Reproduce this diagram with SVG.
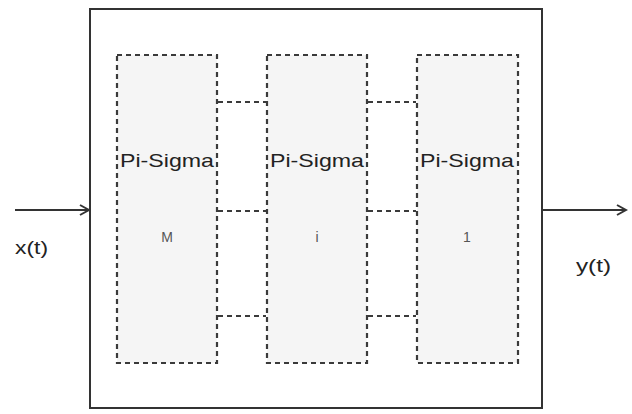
<svg xmlns="http://www.w3.org/2000/svg" width="632" height="414" viewBox="0 0 632 414">
<defs>
<style>
.box{fill:#f5f5f5;stroke:#3a3a3a;stroke-width:2.2;stroke-dasharray:5,4}
.conn{stroke:#3a3a3a;stroke-width:2.2;stroke-dasharray:5,4;fill:none}
.wire{stroke:#333;stroke-width:2;fill:none}
.lbl{font-family:"Liberation Sans",Arial,sans-serif;font-size:19px;fill:#222}
.idx{font-family:"Liberation Sans",Arial,sans-serif;font-size:14px;fill:#555;text-anchor:middle}
</style>
<marker id="arr" markerWidth="12" markerHeight="12" refX="10" refY="6" orient="auto" markerUnits="userSpaceOnUse">
<path d="M1,1 L10,6 L1,11" fill="none" stroke="#333" stroke-width="2"/>
</marker>
</defs>
<rect width="632" height="414" fill="#fff"/>
<g id="outer">
<rect x="90" y="9" width="452" height="399" fill="#fff" stroke="#333" stroke-width="2"/>
</g>
<g id="connectors">
<line class="wire" x1="15" y1="210" x2="89" y2="210" marker-end="url(#arr)"/>
<line class="wire" x1="542" y1="210" x2="626" y2="210" marker-end="url(#arr)"/>
<line class="conn" x1="218" y1="102" x2="266" y2="102"/>
<line class="conn" x1="218" y1="211" x2="266" y2="211"/>
<line class="conn" x1="218" y1="316" x2="266" y2="316"/>
<line class="conn" x1="368" y1="102" x2="416" y2="102"/>
<line class="conn" x1="368" y1="211" x2="416" y2="211"/>
<line class="conn" x1="368" y1="316" x2="416" y2="316"/>
</g>
<g id="nodeM">
<rect class="box" x="117" y="55" width="100" height="308"/>
<text class="lbl" x="120" y="167" textLength="94" lengthAdjust="spacingAndGlyphs">Pi-Sigma</text>
<text class="idx" x="167" y="242">M</text>
</g>
<g id="nodeI">
<rect class="box" x="267" y="55" width="100" height="308"/>
<text class="lbl" x="270" y="167" textLength="94" lengthAdjust="spacingAndGlyphs">Pi-Sigma</text>
<text class="idx" x="317" y="242">i</text>
</g>
<g id="node1">
<rect class="box" x="417" y="55" width="101" height="308"/>
<text class="lbl" x="420" y="167" textLength="94" lengthAdjust="spacingAndGlyphs">Pi-Sigma</text>
<text class="idx" x="467" y="242">1</text>
</g>
<g id="labels">
<text class="lbl" x="15" y="254" textLength="33" lengthAdjust="spacingAndGlyphs">x(t)</text>
<text class="lbl" x="576" y="272" textLength="35" lengthAdjust="spacingAndGlyphs">y(t)</text>
</g>
</svg>
